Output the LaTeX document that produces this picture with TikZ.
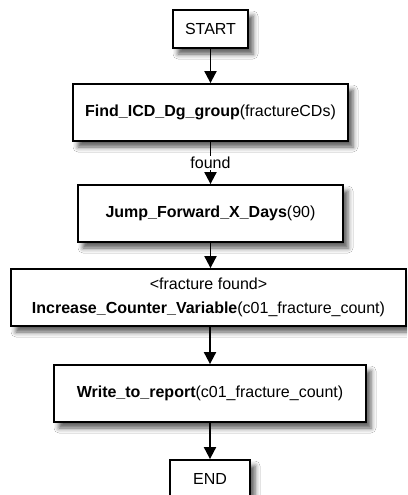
\documentclass[tikz,border=0pt]{standalone}
\usepackage{fontspec}
\setmainfont{Liberation Sans}
\usetikzlibrary{arrows.meta,shadows.blur}

\begin{document}
\begin{tikzpicture}[x=1pt,y=-1pt,
  box/.style={draw=black, line width=1.8pt, fill=white, inner sep=0pt,
    align=center, font=\fontsize{16}{24}\selectfont,
    blur shadow={shadow xshift=5pt, shadow yshift=-6pt,
      shadow blur radius=5pt, shadow opacity=65}},
  flow/.style={line width=1.9pt, -{Triangle[width=12pt,length=12pt]}},
  flowlabel/.style={fill=white, inner sep=1.5pt, font=\fontsize{16}{19}\selectfont}]
\clip (0,0) rectangle (407,495);
\fill[white] (0,0) rectangle (407,495);

% process steps
\node[box, minimum width=75pt, minimum height=38pt] (start) at (210.5,29) {START};
\node[box, minimum width=275pt, minimum height=57pt] (find) at (210.5,112.5)
  {\textbf{Find\_ICD\_Dg\_group}(fractureCDs)};
\node[box, minimum width=265pt, minimum height=57pt] (jump) at (210.5,213.5)
  {\textbf{Jump\_Forward\_X\_Days}(90)};
\node[box, minimum width=395pt, minimum height=57pt] (incr) at (208.5,297.5)
  {<fracture found>\\\textbf{Increase\_Counter\_Variable}(c01\_fracture\_count)};
\node[box, minimum width=312pt, minimum height=57pt] (write) at (210,393.5)
  {\textbf{Write\_to\_report}(c01\_fracture\_count)};
\node[box, minimum width=80pt, minimum height=38pt] (end) at (210,479) {END};

% connectors
\draw[flow] (start) -- (find);
\draw[flow] (find) -- node[flowlabel] {found} (jump);
\draw[flow] (jump) -- (jump.south |- incr.north);
\draw[flow] (incr.south -| write.north) -- (write);
\draw[flow] (write) -- (end);
\end{tikzpicture}
\end{document}
